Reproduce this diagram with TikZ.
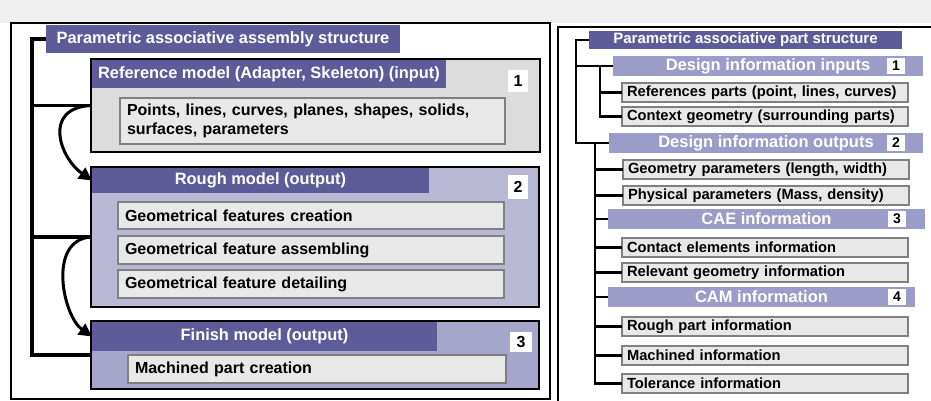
\documentclass[tikz,border=0pt]{standalone}
\usepackage{fontspec}
\setmainfont{Liberation Sans}
\usetikzlibrary{arrows.meta}
\definecolor{hdr}{HTML}{5E5C98}
\definecolor{rbar}{HTML}{9C9CC8}
\definecolor{lav}{HTML}{B8B8D4}
\definecolor{lavdark}{HTML}{A6A6CA}
\definecolor{gbox}{HTML}{DCDCDC}
\definecolor{leaf}{HTML}{E8E8E8}
\definecolor{boxline}{HTML}{808080}
\definecolor{bg}{HTML}{F0F0F0}
\tikzset{
  nw/.style={anchor=north west, inner sep=0pt, outer sep=0pt},
  bigbox/.style={nw, draw=black, line width=2.2pt},
  hbar/.style={nw, fill=hdr, text=white, font=\fontsize{16.4}{18}\selectfont\bfseries},
  numbox/.style={nw, fill=white, font=\fontsize{16}{18}\selectfont\bfseries},
  inbox/.style={nw, draw=boxline, line width=1.2pt, fill=leaf, inner xsep=7pt, align=left, font=\fontsize{16}{19}\selectfont\bfseries},
  rleaf/.style={nw, draw=boxline, line width=1.2pt, fill=leaf, inner xsep=5pt, text width=276pt, minimum height=19pt, align=left, font=\fontsize{14.7}{17}\selectfont\bfseries},
  rtitle/.style={nw, fill=hdr, text=white, font=\fontsize{15}{17}\selectfont\bfseries},
  rbarst/.style={nw, fill=rbar, text=white, minimum height=20pt, font=\fontsize{16.5}{18}\selectfont\bfseries},
  rnum/.style={nw, fill=white, minimum width=18pt, minimum height=16pt, font=\fontsize{14}{16}\selectfont\bfseries},
  tree/.style={line width=3.5pt},
  rtree/.style={line width=2.5pt},
  arr/.style={line width=3pt, -{Triangle[length=13pt,width=13pt]}},
  frame/.style={draw=black, line width=2.2pt, fill=white},
}
\begin{document}
\begin{tikzpicture}[x=1pt,y=-1pt]
\useasboundingbox (0,0) rectangle (931,401);
\clip (0,0) rectangle (931,401);
\fill[white] (0,0) rectangle (931,401);
\fill[bg] (0,0) rectangle (931,23);
% frames
\draw[frame] (11,23) rectangle (550,399);
\draw[frame] (558,27) rectangle (945,415);

% ---------- left part ----------
\node[hbar, minimum width=354pt, minimum height=28pt] (t0) at (46,25) {Parametric associative assembly structure};

\node[bigbox, fill=gbox, minimum width=449pt, minimum height=93pt] (b1) at (91,59) {};
\node[hbar, minimum width=354pt, minimum height=28pt] (h1) at (92,60) {Reference model (Adapter, Skeleton) (input)};
\node[numbox, minimum width=20pt, minimum height=22pt] (n1) at (508,70) {1};
\node[inbox, text width=371pt, minimum height=46pt] (i1) at (120,98) {Points, lines, curves, planes, shapes, solids,\\surfaces, parameters};

\node[bigbox, fill=lav, minimum width=448pt, minimum height=140pt] (b2) at (91,167) {};
\node[hbar, minimum width=337pt, minimum height=25pt] (h2) at (92,168) {Rough model (output)};
\node[numbox, minimum width=20pt, minimum height=24pt] (n2) at (508,175) {2};
\node[inbox, text width=372pt, minimum height=27pt] (i2a) at (118,202) {Geometrical features creation};
\node[inbox, text width=372pt, minimum height=28pt] (i2b) at (118,236) {Geometrical feature assembling};
\node[inbox, text width=372pt, minimum height=28pt] (i2c) at (118,270) {Geometrical feature detailing};

\node[bigbox, fill=lavdark, minimum width=448pt, minimum height=68pt] (b3) at (91,321) {};
\node[hbar, minimum width=345pt, minimum height=29pt] (h3) at (92,322) {Finish model (output)};
\node[numbox, minimum width=22pt, minimum height=20pt] (n3) at (510,332) {3};
\node[inbox, text width=364pt, minimum height=28pt] (i3) at (128,355) {Machined part creation};

\coordinate (lj) at (32,39);
\draw[tree] (t0.west) -- (lj) |- (b3.west);
\draw[tree] (lj |- b1.west) -- (b1.west);
\draw[tree] (lj |- b2.west) -- (b2.west);
\draw[arr] (b1.west) .. controls (42,108) and (60,158) .. (h2.west);
\draw[arr] (b2.west) .. controls (47,240) and (63,316) .. (h3.west);

% ---------- right part ----------
\node[rtitle, minimum width=313pt, minimum height=18pt] (rt) at (589,31) {Parametric associative part structure};

\node[rbarst, minimum width=310pt] (rb1) at (613,56) {Design information inputs};
\node[rnum] (rn1) at (887,58) {1};
\node[rleaf] (l1) at (622,83) {References parts (point, lines, curves)};
\node[rleaf] (l2) at (622,107) {Context geometry (surrounding parts)};

\node[rbarst, minimum width=314pt] (rb2) at (609,133) {Design information outputs};
\node[rnum] (rn2) at (887,135) {2};
\node[rleaf] (l3) at (623,160) {Geometry parameters (length, width)};
\node[rleaf] (l4) at (623,186) {Physical parameters (Mass, density)};

\node[rbarst, minimum width=317pt] (rb3) at (608,209) {CAE information};
\node[rnum] (rn3) at (888,211) {3};
\node[rleaf] (l5) at (622,238) {Contact elements information};
\node[rleaf] (l6) at (622,263) {Relevant geometry information};

\node[rbarst, minimum width=307pt] (rb4) at (608,287) {CAM information};
\node[rnum] (rn4) at (888,289) {4};
\node[rleaf] (l7) at (622,317) {Rough part information};
\node[rleaf] (l8) at (622,346) {Machined information};
\node[rleaf] (l9) at (622,374) {Tolerance information};

\coordinate (rj) at (576,40);
\draw[rtree] (rt.west) -- (rj) |- (rb2.west);
\draw[rtree] (rj |- rb1.west) -- (rb1.west);
\coordinate (sj) at (600,66);
\draw[rtree] (sj) |- (l2.west);
\draw[rtree] (sj |- l1.west) -- (l1.west);
\coordinate (tj) at (595,143);
\draw[rtree] (tj) |- (l9.west);
\foreach \n in {l3,l4,rb3,l5,l6,rb4,l7,l8} {
  \draw[rtree] (tj |- \n.west) -- (\n.west);
}
\end{tikzpicture}
\end{document}
